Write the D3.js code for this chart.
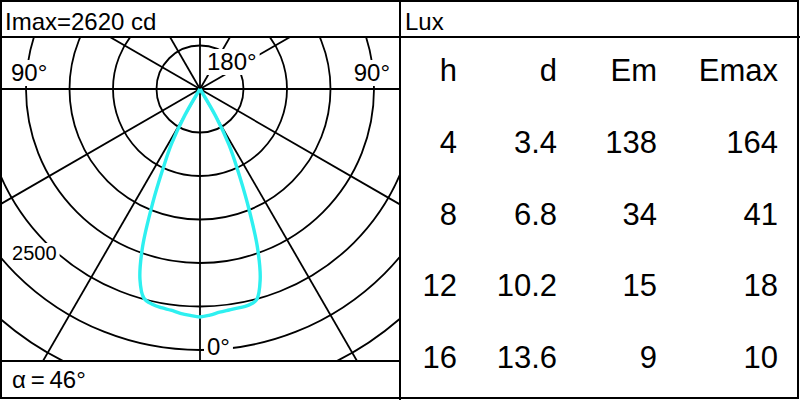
<!DOCTYPE html>
<html>
<head>
<meta charset="utf-8">
<script src="https://cdn.jsdelivr.net/npm/d3@7"></script>
<style>
  html, body { margin: 0; padding: 0; background: #fff; }
  svg { display: block; }
  text { font-family: "Liberation Sans", Arial, sans-serif; fill: #000; }
</style>
</head>
<body>
<svg id="chart" width="800" height="400"></svg>
<script>
// ---------- data ----------
const imaxLabel = "Imax=2620 cd";
const beamLabel = "\u03B1\u2009=\u200946°";
const luxLabel = "Lux";

// gamma angles (deg from nadir) and luminous intensity (cd)
const gammaAngles   = [0, 2.5, 5, 7.5, 10, 12.5, 15, 17.5, 20, 22.5, 25, 27.5, 30, 32.5, 35, 40, 45, 50, 60, 70, 80, 90];
const intensityC0   = [2620, 2602, 2575, 2562, 2555, 2548, 2510, 2300, 1925, 1430, 1020, 720, 360, 0, 0, 0, 0, 0, 0, 0, 0, 0];
const intensityC180 = [2620, 2605, 2588, 2564, 2553, 2535, 2490, 2295, 1930, 1425, 1000, 705, 350, 0, 0, 0, 0, 0, 0, 0, 0, 0];

// polar grid
const ringValues = [500, 1000, 1500, 2000, 2500, 3000, 3500, 4000, 4500, 5000];
const spokeAngles = [0, 30, 60, 90, 120, 150, 180, 210, 240, 270, 300, 330];
const ringLabelValue = 2500;

// illuminance table
const tableHeaders = ["h", "d", "Em", "Emax"];
const heights   = ["4", "8", "12", "16"];
const distances = ["3.4", "6.8", "10.2", "13.6"];
const emValues  = ["138", "34", "15", "9"];
const emaxValues = ["164", "41", "18", "10"];

// ---------- layout ----------
const svg = d3.select("#chart");
const cx = 200, cy = 89;
const plot = { x0: 1, x1: 399, y0: 37, y1: 361 };
const rScale = d3.scaleLinear().domain([0, 500]).range([0, 43.5]);
const toRad = d => d * Math.PI / 180;

svg.append("rect").attr("width", 800).attr("height", 400).attr("fill", "#fff");

const defs = svg.append("defs");
defs.append("clipPath").attr("id", "plotClip")
  .append("rect")
  .attr("x", plot.x0).attr("y", plot.y0)
  .attr("width", plot.x1 - plot.x0).attr("height", plot.y1 - plot.y0);

const gPlot = svg.append("g").attr("clip-path", "url(#plotClip)");
const gCenter = gPlot.append("g").attr("transform", `translate(${cx},${cy})`);

// rings
gCenter.selectAll("circle.ring").data(ringValues).enter()
  .append("circle").attr("class", "ring")
  .attr("r", d => rScale(d))
  .attr("fill", "none").attr("stroke", "#000").attr("stroke-width", 1.8);

// spokes
gCenter.selectAll("line.spoke").data(spokeAngles).enter()
  .append("line").attr("class", "spoke")
  .attr("x1", 0).attr("y1", 0)
  .attr("x2", d => Math.sin(toRad(d)) * rScale(10000))
  .attr("y2", d => Math.cos(toRad(d)) * rScale(10000))
  .attr("stroke", "#000").attr("stroke-width", 1.8);

// labels with white background
function boxedLabel(parent, txt, x, y, size, anchor) {
  const g = parent.append("g");
  const rect = g.append("rect").attr("fill", "#fff");
  const t = g.append("text").attr("x", x).attr("y", y)
    .attr("font-size", size).attr("text-anchor", anchor || "start").text(txt);
  const bb = t.node().getBBox();
  rect.attr("x", bb.x - 3).attr("y", bb.y + 1)
    .attr("width", bb.width + 6).attr("height", bb.height - 1);
  return g;
}
const gLabels = gPlot.append("g");
boxedLabel(gLabels, "90°", 11, 81, 24);
boxedLabel(gLabels, "90°", 390, 81, 24, "end");
boxedLabel(gLabels, "180°", 207, 70, 24);
boxedLabel(gLabels, "0°", 207, 355, 24);
{
  const ly = 260;
  const rr = rScale(ringLabelValue);
  const lx = cx - Math.sqrt(rr * rr - (ly - cy) * (ly - cy)) - 9;
  boxedLabel(gLabels, String(ringLabelValue), lx, ly, 20, "end");
}

// intensity curve
function firstZero(arr) { const i = arr.indexOf(0); return i < 0 ? arr.length - 1 : i; }
const z180 = firstZero(intensityC180), z0 = firstZero(intensityC0);
const pts = [];
for (let i = z180; i >= 1; i--) pts.push({ a: Math.PI + toRad(gammaAngles[i]), v: intensityC180[i] });
pts.push({ a: Math.PI, v: (intensityC0[0] + intensityC180[0]) / 2 });
for (let i = 1; i <= z0; i++) pts.push({ a: Math.PI - toRad(gammaAngles[i]), v: intensityC0[i] });

const radial = d3.lineRadial()
  .angle(d => d.a)
  .radius(d => rScale(d.v))
  .curve(d3.curveCatmullRom.alpha(0.5));

gCenter.append("path")
  .attr("d", radial(pts))
  .attr("fill", "none")
  .attr("stroke", "#2ef0f0")
  .attr("stroke-width", 3.4)
  .attr("stroke-linejoin", "round");

// ---------- frame ----------
const frame = svg.append("g").attr("stroke", "#000").attr("stroke-width", 2).attr("fill", "none");
frame.append("rect").attr("x", 1).attr("y", 1).attr("width", 797).attr("height", 397);
frame.append("line").attr("x1", 400).attr("x2", 400).attr("y1", 0).attr("y2", 400);
frame.append("line").attr("x1", 0).attr("x2", 800).attr("y1", 37).attr("y2", 37);
frame.append("line").attr("x1", 0).attr("x2", 400).attr("y1", 361).attr("y2", 361);

svg.append("text").attr("x", 5).attr("y", 30).attr("font-size", 24).text(imaxLabel);
svg.append("text").attr("x", 405).attr("y", 30).attr("font-size", 24).text(luxLabel);
svg.append("text").attr("x", 12).attr("y", 388).attr("font-size", 24).text(beamLabel);

// ---------- table ----------
const columns = [tableHeaders, heights, distances, emValues, emaxValues];
const colRight = d3.scaleOrdinal().domain(tableHeaders).range([457, 557, 657, 778]);
const rowY = d3.scalePoint().domain(d3.range(heights.length + 1)).range([81, 368]);
const rows = [tableHeaders].concat(heights.map((h, i) => [h, distances[i], emValues[i], emaxValues[i]]));
const gTable = svg.append("g");
rows.forEach((row, ri) => {
  row.forEach((cell, ci) => {
    gTable.append("text")
      .attr("x", colRight(tableHeaders[ci]))
      .attr("y", rowY(ri))
      .attr("text-anchor", "end")
      .attr("font-size", 31)
      .text(cell);
  });
});
</script>
</body>
</html>
